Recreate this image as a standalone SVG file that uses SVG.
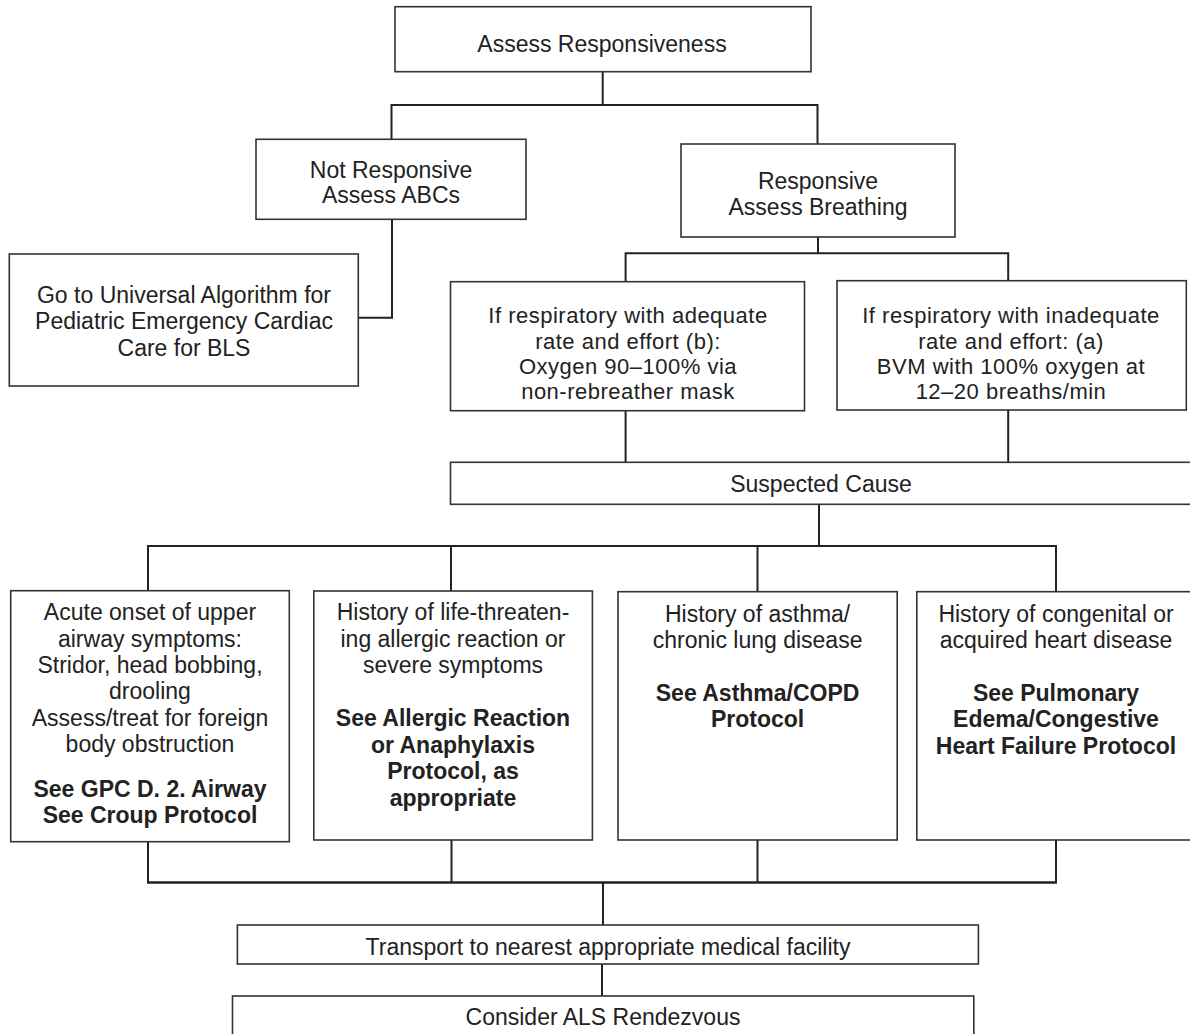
<svg xmlns="http://www.w3.org/2000/svg" width="1190" height="1034" viewBox="0 0 1190 1034">
<style>
  .box { fill: #ffffff; stroke: #333333; stroke-width: 1.6; }
  .t { font-family: "Liberation Sans", Arial, Helvetica, sans-serif; font-size: 23px; fill: #222222; text-anchor: middle; }
  .s { font-size: 22px; letter-spacing: 0.5px; }
  .b { font-weight: bold; }
  .conn { fill: none; stroke: #222222; stroke-width: 2; }
  .thick { stroke-width: 2.6; }
</style>
<rect x="0" y="0" width="1190" height="1034" fill="#ffffff"/>

<g id="connectors">
  <path class="conn" d="M602.7 71.7 V105 M391.5 139.3 V105 H817.5 V144"/>
  <path class="conn" d="M392 219.3 V317.7 H358.3"/>
  <path class="conn" d="M818 237 V253.3 M625.6 281.7 V253.3 H1008.2 V280.7"/>
  <path class="conn" d="M625.6 410.7 V462.3 M1008.2 410 V462.3"/>
  <path class="conn" d="M819 504.3 V546 M148 591 V546 H1056 V591 M451 546 V591 M757.5 546 V591"/>
  <path class="conn" d="M148 841.7 V882.5 M451.5 840 V882.5 M757.5 840 V882.5 M1056 840 V882.5"/>
  <path class="conn thick" d="M147 882.5 H1057"/>
  <path class="conn" d="M603 882.5 V925"/>
  <path class="conn" d="M602 964 V996"/>
</g>

<g id="assess">
  <rect class="box" x="395" y="6.7" width="416" height="65"/>
  <text class="t" x="602" y="51.7">Assess Responsiveness</text>
</g>

<g id="not-responsive">
  <rect class="box" x="256" y="139.3" width="270" height="80"/>
  <text class="t" x="391" y="178.3">Not Responsive</text>
  <text class="t" x="391" y="203.3">Assess ABCs</text>
</g>

<g id="responsive">
  <rect class="box" x="681" y="144" width="274" height="93"/>
  <text class="t" x="818" y="189">Responsive</text>
  <text class="t" x="818" y="214.5">Assess Breathing</text>
</g>

<g id="go-to-universal">
  <rect class="box" x="9.3" y="254" width="349" height="132"/>
  <text class="t" x="184" y="302.7">Go to Universal Algorithm for</text>
  <text class="t" x="184" y="329">Pediatric Emergency Cardiac</text>
  <text class="t" x="184" y="355.7">Care for BLS</text>
</g>

<g id="adequate">
  <rect class="box" x="450.5" y="281.7" width="354" height="129"/>
  <text class="t s" x="628" y="323.2">If respiratory with adequate</text>
  <text class="t s" x="628" y="348.6">rate and effort (b):</text>
  <text class="t s" x="628" y="374">Oxygen 90–100% via</text>
  <text class="t s" x="628" y="399.4">non-rebreather mask</text>
</g>

<g id="inadequate">
  <rect class="box" x="837" y="280.7" width="349.3" height="129.3"/>
  <text class="t s" x="1011" y="323.2">If respiratory with inadequate</text>
  <text class="t s" x="1011" y="348.6">rate and effort: (a)</text>
  <text class="t s" x="1011" y="374">BVM with 100% oxygen at</text>
  <text class="t s" x="1011" y="399.4">12–20 breaths/min</text>
</g>

<g id="suspected-cause">
  <rect class="box" x="450.5" y="462.3" width="745" height="42"/>
  <text class="t" x="821" y="491.7">Suspected Cause</text>
</g>

<g id="upper-airway">
  <rect class="box" x="10.7" y="590.7" width="278.6" height="251"/>
  <text class="t" x="150" y="620">Acute onset of upper</text>
  <text class="t" x="150" y="646.5">airway symptoms:</text>
  <text class="t" x="150" y="672.8">Stridor, head bobbing,</text>
  <text class="t" x="150" y="699.2">drooling</text>
  <text class="t" x="150" y="725.7">Assess/treat for foreign</text>
  <text class="t" x="150" y="751.7">body obstruction</text>
  <text class="t b" x="150" y="796.7">See GPC D. 2. Airway</text>
  <text class="t b" x="150" y="822.7">See Croup Protocol</text>
</g>

<g id="allergic">
  <rect class="box" x="313.8" y="591" width="278.6" height="249"/>
  <text class="t" x="453" y="620">History of life-threaten-</text>
  <text class="t" x="453" y="646.7">ing allergic reaction or</text>
  <text class="t" x="453" y="673">severe symptoms</text>
  <text class="t b" x="453" y="726">See Allergic Reaction</text>
  <text class="t b" x="453" y="752.7">or Anaphylaxis</text>
  <text class="t b" x="453" y="779.3">Protocol, as</text>
  <text class="t b" x="453" y="806">appropriate</text>
</g>

<g id="asthma">
  <rect class="box" x="618" y="591.7" width="279.2" height="248.3"/>
  <text class="t" x="757.6" y="621.7">History of asthma/</text>
  <text class="t" x="757.6" y="648.3">chronic lung disease</text>
  <text class="t b" x="757.6" y="700.7">See Asthma/COPD</text>
  <text class="t b" x="757.6" y="727.3">Protocol</text>
</g>

<g id="heart-disease">
  <rect class="box" x="916.8" y="591.7" width="278.4" height="248.3"/>
  <text class="t" x="1056" y="621.7">History of congenital or</text>
  <text class="t" x="1056" y="648.3">acquired heart disease</text>
  <text class="t b" x="1056" y="700.7">See Pulmonary</text>
  <text class="t b" x="1056" y="727.3">Edema/Congestive</text>
  <text class="t b" x="1056" y="754">Heart Failure Protocol</text>
</g>

<g id="transport">
  <rect class="box" x="237.4" y="925" width="741" height="39"/>
  <text class="t" x="608" y="955">Transport to nearest appropriate medical facility</text>
</g>

<g id="als-rendezvous">
  <rect class="box" x="232.5" y="996" width="741.3" height="50"/>
  <text class="t" x="603" y="1025">Consider ALS Rendezvous</text>
</g>
</svg>
